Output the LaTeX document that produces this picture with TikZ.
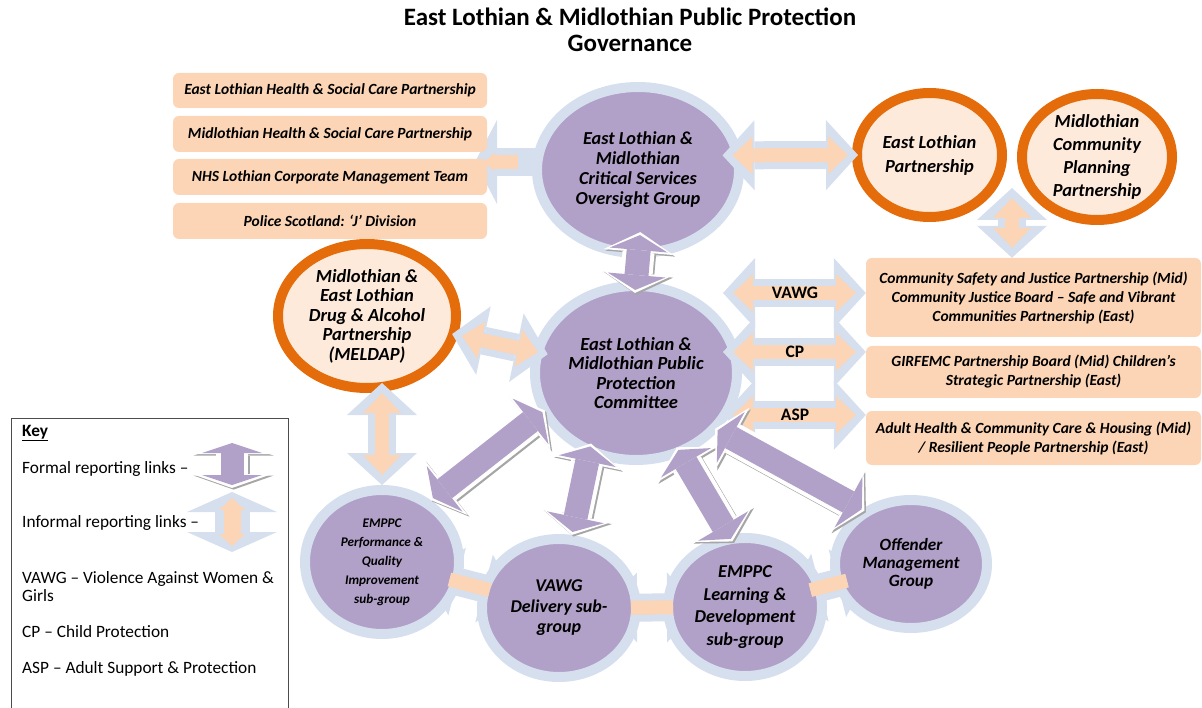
\documentclass[tikz,border=0pt]{standalone}
\usepackage{fontspec}
\setmainfont{Carlito}
\usetikzlibrary{shapes.geometric, arrows.meta, backgrounds}

\definecolor{lilac}{HTML}{B1A0C7}
\definecolor{ringblue}{HTML}{D5DFEE}
\definecolor{peach}{HTML}{FBD5B5}
\definecolor{palepeach}{HTML}{FDEADA}
\definecolor{burnt}{HTML}{E46C0A}

\tikzset{
  bluehead/.tip={Triangle[width=70pt,length=32pt,line width=0pt]},
  peachhead/.tip={Triangle[width=38pt,length=20pt,line width=0pt]},
  whitehead/.tip={Triangle[width=70pt,length=20pt,line width=0pt]},
  lilachead/.tip={Triangle[width=58pt,length=15pt,line width=0pt]},
  forum/.style={ellipse, fill=lilac, draw=ringblue, line width=10pt, inner sep=0pt, align=center},
  partnership/.style={ellipse, fill=palepeach, draw=burnt, line width=10pt, inner sep=0pt, align=center},
  board/.style={rectangle, rounded corners=6pt, fill=peach, inner sep=0pt, align=center, font=\fontsize{15.5}{19}\selectfont\bfseries\itshape},
  infoback/.style={draw=ringblue, line width=28pt, arrows={bluehead-bluehead}},
  infofront/.style={draw=peach, line width=14pt, arrows={peachhead-peachhead}, shorten <=10pt, shorten >=10pt},
  infobar/.style={draw=peach, line width=14pt},
  formalrim/.style={draw=black!35, line width=32pt, arrows={whitehead-whitehead}, transform canvas={shift={(1.6pt,-1.6pt)}}},
  formalback/.style={draw=white, line width=32pt, arrows={whitehead-whitehead}},
  formalfront/.style={draw=lilac, line width=24pt, arrows={lilachead-lilachead}},
  linklabel/.style={font=\fontsize{17.5}{20}\selectfont\bfseries},
  keytext/.style={anchor=west, align=left, inner sep=0pt, font=\fontsize{17.3}{18}\selectfont}
}

\begin{document}
\begin{tikzpicture}[x=1pt, y=-1pt]
\useasboundingbox (0,0) rectangle (1202,708);
\node[font=\fontsize{25}{26}\selectfont\bfseries, align=center] (title) at (630,30) {East Lothian \& Midlothian Public Protection\\Governance};

\node[board, minimum width=314pt, minimum height=35pt] (elhscp) at (330,90.5) {East Lothian Health \& Social Care Partnership};
\node[board, minimum width=314pt, minimum height=36pt] (mlhscp) at (330,134) {Midlothian Health \& Social Care Partnership};
\node[board, minimum width=314pt, minimum height=36pt] (nhslothian) at (330,177) {NHS Lothian Corporate Management Team};
\node[board, minimum width=314pt, minimum height=36pt] (police) at (330,221) {Police Scotland: ‘J’ Division};

\node[board, minimum width=335pt, minimum height=79pt] (csjp) at (1033.5,297.5) {Community Safety and Justice Partnership (Mid)\\Community Justice Board – Safe and Vibrant\\Communities Partnership (East)};
\node[board, minimum width=335pt, minimum height=52pt] (girfec) at (1033.5,372) {GIRFEMC Partnership Board (Mid) Children’s\\Strategic Partnership (East)};
\node[board, minimum width=335pt, minimum height=54pt] (adulthealth) at (1033.5,438) {Adult Health \& Community Care \& Housing (Mid)\\/ Resilient People Partnership (East)};

\node[forum, minimum width=202pt, minimum height=166pt, font=\fontsize{18.3}{20}\selectfont\bfseries\itshape] (csog) at (638,170) {East Lothian \&\\Midlothian\\Critical Services\\Oversight Group};
\node[forum, minimum width=202pt, minimum height=174pt, font=\fontsize{18.5}{19.5}\selectfont\bfseries\itshape] (ppc) at (636,373) {East Lothian \&\\Midlothian Public\\Protection\\Committee};
\node[partnership, minimum width=145pt, minimum height=124pt, font=\fontsize{18.5}{24}\selectfont\bfseries\itshape] (elp) at (929.5,155) {East Lothian\\Partnership};
\node[partnership, minimum width=150pt, minimum height=126pt, font=\fontsize{18.4}{23}\selectfont\bfseries\itshape] (mcpp) at (1097,157) {Midlothian\\Community\\Planning\\Partnership};
\node[partnership, minimum width=178pt, minimum height=144pt, font=\fontsize{18.5}{19.5}\selectfont\bfseries\itshape] (meldap) at (367,316) {Midlothian \&\\East Lothian\\Drug \& Alcohol\\Partnership\\(MELDAP)};
\node[forum, minimum width=154pt, minimum height=144pt, font=\fontsize{13.2}{19}\selectfont\bfseries\itshape] (perf) at (382,562) {EMPPC\\Performance \&\\Quality\\Improvement\\sub-group};
\node[forum, minimum width=154pt, minimum height=138pt, font=\fontsize{18}{20.5}\selectfont\bfseries\itshape] (vawgdel) at (559,608) {VAWG\\Delivery sub-\\group};
\node[forum, minimum width=154pt, minimum height=138pt, font=\fontsize{18.2}{22.5}\selectfont\bfseries\itshape] (learndev) at (745,607) {EMPPC\\Learning \&\\Development\\sub-group};
\node[forum, minimum width=152pt, minimum height=128pt, font=\fontsize{17.2}{18}\selectfont\bfseries\itshape] (offender) at (911,564) {Offender\\Management\\Group};

\coordinate (leftend) at (475,162);
\coordinate (planmid) at (1012,188);
\coordinate (vawgend) at (723,293);
\coordinate (cpend) at (723,352);
\coordinate (aspend) at (723,415);

\begin{pgfonlayer}{background}
\draw[infoback, arrows=-{Triangle[width=84pt,length=22pt,line width=0pt]}, shorten <=-4pt] (csog.west |- leftend) -- (leftend);
\draw[infoback] (planmid) -- (planmid |- csjp.north);
\draw[infoback, shorten <=-36pt, shorten >=-36pt] (perf) -- (vawgdel);
\draw[infoback, shorten <=-36pt, shorten >=-36pt] (vawgdel) -- (learndev);
\draw[infoback, shorten <=-36pt, shorten >=-36pt] (learndev) -- (offender);
\end{pgfonlayer}

\draw[infofront, arrows=-{Triangle[width=18pt,length=10pt,line width=0pt]}, shorten <=14pt, shorten >=9pt] (csog.west |- leftend) -- (leftend);
\draw[infofront] (planmid) -- (planmid |- csjp.north);
\draw[infoback, shorten <=-20pt, shorten >=-6pt] (csog.8) -- (elp.west);
\draw[infofront, shorten <=-10pt, shorten >=4pt] (csog.8) -- (elp.west);
\draw[infoback] (vawgend) -- (vawgend -| csjp.west);
\draw[infofront] (vawgend) -- (vawgend -| csjp.west);
\draw[infoback] (cpend) -- (cpend -| girfec.west);
\draw[infofront] (cpend) -- (cpend -| girfec.west);
\draw[infoback] (aspend) -- (aspend -| adulthealth.west);
\draw[infofront] (aspend) -- (aspend -| adulthealth.west);
\draw[infoback, shorten <=-6pt, shorten >=-15pt] (meldap) -- (ppc);
\draw[infofront, shorten <=4pt, shorten >=-5pt] (meldap) -- (ppc);
\draw[infoback, shorten <=-10pt, shorten >=0pt] (perf.north |- meldap.south) -- (perf.north);
\draw[infofront, shorten <=0pt] (perf.north |- meldap.south) -- (perf.north);
\draw[infobar, shorten <=-12pt, shorten >=-10pt] (perf) -- (vawgdel);
\draw[infobar, shorten <=-10pt, shorten >=-10pt] (vawgdel) -- (learndev);
\draw[infobar, shorten <=-14pt, shorten >=-14pt] (learndev) -- (offender);

\draw[formalrim, shorten <=-26pt, shorten >=-12pt] (csog.south) -- (ppc.north);
\draw[formalback, shorten <=-26pt, shorten >=-12pt] (csog.south) -- (ppc.north);
\draw[formalfront, shorten <=-23pt, shorten >=-9pt] (csog.south) -- (ppc.north);
\draw[formalrim, shorten <=-5pt] (ppc.203) -- (perf.52);
\draw[formalback, shorten <=-5pt] (ppc.203) -- (perf.52);
\draw[formalfront, shorten <=-2pt, shorten >=3pt] (ppc.203) -- (perf.52);
\draw[formalrim, shorten <=-12pt] (ppc.240) -- (vawgdel.80);
\draw[formalback, shorten <=-12pt] (ppc.240) -- (vawgdel.80);
\draw[formalfront, shorten <=-9pt, shorten >=3pt] (ppc.240) -- (vawgdel.80);
\draw[formalrim, shorten <=-10pt, shorten >=-8pt] (ppc.299) -- (learndev.103);
\draw[formalback, shorten <=-10pt, shorten >=-8pt] (ppc.299) -- (learndev.103);
\draw[formalfront, shorten <=-7pt, shorten >=-5pt] (ppc.299) -- (learndev.103);
\draw[formalrim, shorten <=-4pt, shorten >=-3pt] (ppc.325) -- (offender.132);
\draw[formalback, shorten <=-4pt, shorten >=-3pt] (ppc.325) -- (offender.132);
\draw[formalfront, shorten <=-1pt, shorten >=0pt] (ppc.325) -- (offender.132);

\node[linklabel] (vawglabel) at (795,293) {VAWG};
\node[linklabel] (cplabel) at (795,352) {CP};
\node[linklabel] (asplabel) at (795,415) {ASP};

\node[draw=black!70, line width=0.9pt, minimum width=277pt, minimum height=300pt, anchor=north west, inner sep=0pt] (keybox) at (10.5,418) {};
\node[keytext] (keytitle) at (22,433) {\textbf{\underline{Key}}};
\node[keytext] (formaltext) at (22,469) {Formal reporting links –};
\node[keytext] (informaltext) at (22,523) {Informal reporting links –};
\node[keytext] (vawgkey) at (22,587) {VAWG – Violence Against Women \&\\Girls};
\node[keytext] (cpkey) at (22,632) {CP – Child Protection};
\node[keytext] (aspkey) at (22,669) {ASP – Adult Support \& Protection};
\coordinate (formaltop) at (232,440);
\coordinate (formalbot) at (232,488);
\coordinate (informaltop) at (232,492);
\coordinate (informalbot) at (232,552);
\draw[formalrim, arrows={Triangle[width=80pt,length=14pt,line width=0pt]-Triangle[width=80pt,length=14pt,line width=0pt]}] (formaltop) -- (formalbot);
\draw[formalback, arrows={Triangle[width=80pt,length=14pt,line width=0pt]-Triangle[width=80pt,length=14pt,line width=0pt]}] (formaltop) -- (formalbot);
\draw[formalfront, line width=23pt, arrows={Triangle[width=60pt,length=10pt,line width=0pt]-Triangle[width=60pt,length=10pt,line width=0pt]}, shorten <=3pt, shorten >=3pt] (formaltop) -- (formalbot);
\draw[infoback, line width=35pt, arrows={Triangle[width=90pt,length=20pt,line width=0pt]-Triangle[width=90pt,length=20pt,line width=0pt]}] (informaltop) -- (informalbot);
\draw[infofront, line width=17pt, arrows={Triangle[width=26pt,length=12pt,line width=0pt]-Triangle[width=26pt,length=12pt,line width=0pt]}, shorten <=6pt, shorten >=6pt] (informaltop) -- (informalbot);
\end{tikzpicture}
\end{document}
